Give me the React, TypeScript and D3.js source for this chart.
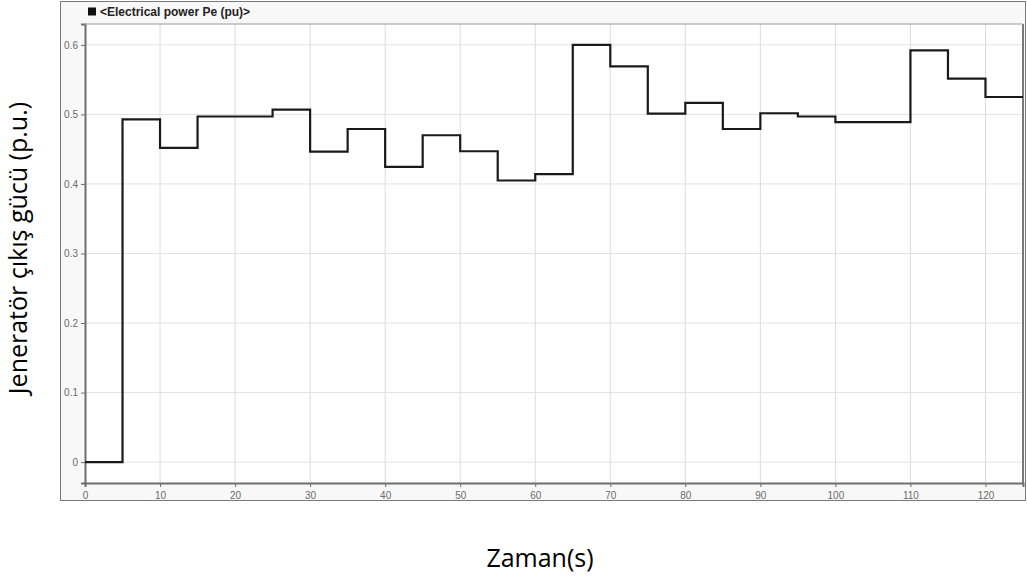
import React, { useEffect, useRef } from "react";
import * as d3 from "d3";

// step start times (s) and the power held from each one (pu)
const times = [0, 5, 10, 15, 25, 30, 35, 40, 45, 50, 55, 60, 65, 70, 75, 80, 85, 90, 95, 100, 110, 115, 120, 125];
const power = [0, 0.493, 0.452, 0.497, 0.507, 0.4465, 0.479, 0.4245, 0.47, 0.447, 0.405, 0.414, 0.6, 0.569, 0.501, 0.5165, 0.479, 0.5017, 0.497, 0.489, 0.592, 0.5515, 0.525, 0.525];
const xTicks = [0, 10, 20, 30, 40, 50, 60, 70, 80, 90, 100, 110, 120];
const yTicks = [0, 0.1, 0.2, 0.3, 0.4, 0.5, 0.6];

const W = 1027;
const H = 581;
const plot = { left: 85, right: 1023, top: 24, bottom: 483 };

const App = () => {
  const ref = useRef<SVGSVGElement>(null);

  useEffect(() => {
    const svg = d3.select(ref.current);
    svg.selectAll("*").remove();

    const x = d3.scaleLinear().domain([0, 125]).range([plot.left, plot.right]);
    const y = d3.scaleLinear().domain([-0.03, 0.63]).range([plot.bottom, plot.top]);

    // outer frame
    svg.append("rect")
      .attr("x", 60.5).attr("y", 1.5)
      .attr("width", W - 62).attr("height", 499)
      .attr("fill", "#f8f8f8").attr("stroke", "#7a7a7a");

    svg.append("rect")
      .attr("x", plot.left).attr("y", plot.top)
      .attr("width", plot.right - plot.left).attr("height", plot.bottom - plot.top)
      .attr("fill", "#fff");

    // grid
    svg.append("g").selectAll("line").data(xTicks.slice(1)).join("line")
      .attr("x1", (d) => x(d)).attr("x2", (d) => x(d))
      .attr("y1", plot.top).attr("y2", plot.bottom)
      .attr("stroke", "#dcdcdc").attr("stroke-width", 1);
    svg.append("g").selectAll("line").data(yTicks).join("line")
      .attr("x1", plot.left).attr("x2", plot.right)
      .attr("y1", (d) => y(d)).attr("y2", (d) => y(d))
      .attr("stroke", "#e2e2e2").attr("stroke-width", 1);

    // axes
    const xAxis = d3.axisBottom(x).tickValues(xTicks).tickSize(4).tickFormat(d3.format("d"));
    const gx = svg.append("g").attr("transform", `translate(0,${plot.bottom})`).call(xAxis);
    const yAxis = d3.axisLeft(y).tickValues(yTicks).tickSize(4).tickFormat((d) => (d === 0 ? "0" : d3.format(".1f")(d as number)));
    const gy = svg.append("g").attr("transform", `translate(${plot.left},0)`).call(yAxis);
    [gx, gy].forEach((g) => {
      g.select(".domain").attr("stroke", "#6e6e6e").attr("stroke-width", 2);
      g.selectAll(".tick line").attr("stroke", "#6e6e6e");
      g.selectAll(".tick text")
        .attr("fill", "#6a6a6a")
        .attr("font-family", "Liberation Sans, Arial, sans-serif")
        .attr("font-size", 10);
    });
    gx.selectAll(".tick text").attr("dy", "0.9em");

    // right and top border of plot
    svg.append("line")
      .attr("x1", plot.right).attr("x2", plot.right)
      .attr("y1", plot.top).attr("y2", plot.bottom)
      .attr("stroke", "#7a7a7a").attr("stroke-width", 2);
    svg.append("line")
      .attr("x1", plot.left).attr("x2", plot.right)
      .attr("y1", plot.top).attr("y2", plot.top)
      .attr("stroke", "#9a9a9a").attr("stroke-width", 1);

    // signal
    const line = d3.line<number>()
      .x((_, i) => x(times[i]))
      .y((d) => y(d))
      .curve(d3.curveStepAfter);
    svg.append("path")
      .datum(power)
      .attr("d", line)
      .attr("fill", "none")
      .attr("stroke", "#1a1a1a")
      .attr("stroke-width", 2.2);

    // legend
    svg.append("rect").attr("x", 88).attr("y", 7.5).attr("width", 8).attr("height", 8).attr("fill", "#111");
    svg.append("text")
      .attr("x", 100).attr("y", 16)
      .attr("font-family", "Liberation Sans, Arial, sans-serif")
      .attr("font-size", 12).attr("font-weight", "bold").attr("fill", "#222")
      .text("<Electrical power Pe (pu)>");

    // axis titles
    svg.append("text")
      .attr("transform", `translate(27,248) rotate(-90)`)
      .attr("text-anchor", "middle")
      .attr("font-family", "Open Sans, sans-serif")
      .attr("font-size", 25).attr("fill", "#000")
      .text("Jeneratör çıkış gücü (p.u.)");
    svg.append("text")
      .attr("x", 540).attr("y", 567)
      .attr("text-anchor", "middle")
      .attr("font-family", "Open Sans, sans-serif")
      .attr("font-size", 25).attr("fill", "#000")
      .text("Zaman(s)");
  }, []);

  return (
    <svg
      ref={ref}
      width={W}
      height={H}
      style={{ position: "absolute", left: 0, top: 0, background: "#fff" }}
    />
  );
};

export default App;
